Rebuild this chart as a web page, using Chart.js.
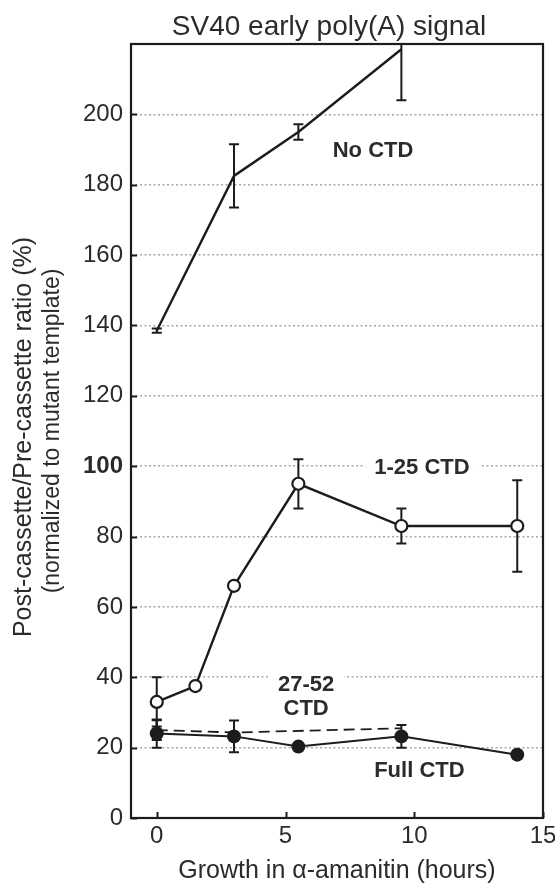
<!DOCTYPE html>
<html>
<head>
<meta charset="utf-8">
<script src="https://cdn.jsdelivr.net/npm/chart.js@4.4.0/dist/chart.umd.min.js"></script>
<style>
  html, body { margin: 0; padding: 0; background: #fff; }
  canvas { display: block; }
</style>
</head>
<body>
<canvas id="chart" width="555" height="884"></canvas>
<script>
/* values: hours in alpha-amanitin vs ratio (%) */
const noCtdHours = [0, 3, 5.5, 9.5];
const noCtdRatio = [138.5, 182.5, 195, 218.5];
const noCtdErr   = [0.6, 9, 2.2, 14.5];

const ctd125Hours = [0, 1.5, 3, 5.5, 9.5, 14];
const ctd125Ratio = [33, 37.5, 66, 95, 83, 83];
const ctd125Err   = [7, 0, 0, 7, 5, 13];

const ctd2752Hours = [0, 3, 9.5];
const ctd2752Ratio = [25, 24.3, 25.5];
const ctd2752Err   = [2.8, 0, 0];

const fullHours = [0, 3, 5.5, 9.5, 14];
const fullRatio = [24, 23.2, 20.3, 23.2, 18];
const fullErr   = [4, 4.5, 0, 3.2, 0];

const xTicks = [0, 5, 10, 15];
const yTicks = [0, 20, 40, 60, 80, 100, 120, 140, 160, 180, 200];

const chartTitle = 'SV40 early poly(A) signal';
const xTitle = 'Growth in \u03b1-amanitin (hours)';
const yTitle = ['Post-cassette/Pre-cassette ratio (%)', '(normalized to mutant template)'];

// series names, placed in data units
const seriesNotes = [
  { lines: ['No CTD'], x: 8.4, y: 189.8 },
  { lines: ['1-25 CTD'], x: 10.3, y: 99.7 },
  { lines: ['27-52', 'CTD'], x: 5.8, y: 34.6 },
  { lines: ['Full CTD'], x: 10.2, y: 13.7 }
];

const INK = '#1c1c1c';
const TEXT = '#2b2b2b';
const FONT = "'Liberation Sans', Arial, Helvetica, sans-serif";

const pts = (xs, ys) => xs.map((x, i) => ({ x, y: ys[i] }));

/* error bars, drawn under the markers */
const errorBars = {
  id: 'errorBars',
  beforeDatasetsDraw(chart) {
    const { ctx, chartArea: a, scales: { x, y } } = chart;
    ctx.save();
    ctx.beginPath();
    ctx.rect(a.left, a.top - 1, a.right - a.left, a.bottom - a.top + 1);
    ctx.clip();
    ctx.strokeStyle = INK;
    ctx.lineWidth = 2;
    for (const ds of chart.data.datasets) {
      (ds.errors || []).forEach((e, i) => {
        if (!e) return;
        const p = ds.data[i];
        const px = x.getPixelForValue(p.x);
        const hi = y.getPixelForValue(p.y + e);
        const lo = y.getPixelForValue(p.y - e);
        ctx.beginPath();
        ctx.moveTo(px, hi); ctx.lineTo(px, lo);
        ctx.moveTo(px - 5, hi); ctx.lineTo(px + 5, hi);
        ctx.moveTo(px - 5, lo); ctx.lineTo(px + 5, lo);
        ctx.stroke();
      });
    }
    ctx.restore();

    // series names with a white box that breaks the grid lines
    ctx.save();
    ctx.font = 'bold 22px ' + FONT;
    ctx.textAlign = 'center';
    ctx.textBaseline = 'middle';
    for (const n of seriesNotes) {
      const cx = x.getPixelForValue(n.x);
      const cy = y.getPixelForValue(n.y);
      const lh = 24;
      const top = cy - (n.lines.length - 1) * lh / 2;
      n.lines.forEach((t, k) => {
        const w = ctx.measureText(t).width;
        ctx.fillStyle = '#fff';
        ctx.fillRect(cx - w / 2 - 10, top + k * lh - 11, w + 20, 22);
        ctx.fillStyle = TEXT;
        ctx.fillText(t, cx, top + k * lh + 1);
      });
    }
    ctx.restore();
  }
};

/* frame, inward ticks and titles */
const frame = {
  id: 'frame',
  afterDraw(chart) {
    const { ctx, chartArea: a, scales: { x, y } } = chart;
    ctx.save();
    ctx.strokeStyle = INK;
    ctx.lineWidth = 2.2;
    ctx.strokeRect(a.left, a.top, a.right - a.left, a.bottom - a.top);
    ctx.lineWidth = 2;
    ctx.beginPath();
    for (const v of yTicks) {
      const py = Math.round(y.getPixelForValue(v)) + 0.5;
      ctx.moveTo(a.left, py); ctx.lineTo(a.left + 6, py);
    }
    for (const v of xTicks) {
      const px = Math.round(x.getPixelForValue(v)) + 0.5;
      ctx.moveTo(px, a.bottom); ctx.lineTo(px, a.bottom - 6);
    }
    ctx.stroke();

    ctx.fillStyle = TEXT;
    ctx.textAlign = 'center';
    ctx.textBaseline = 'alphabetic';
    ctx.font = '28px ' + FONT;
    ctx.fillText(chartTitle, 329, 35);
    ctx.font = '25px ' + FONT;
    ctx.fillText(xTitle, (a.left + a.right) / 2, 878);

    ctx.translate(0, 437);
    ctx.rotate(-Math.PI / 2);
    ctx.font = '25px ' + FONT;
    ctx.fillText(yTitle[0], 0, 31);
    ctx.font = '23px ' + FONT;
    ctx.translate(6, 0);
    ctx.fillText(yTitle[1], 0, 59);
    ctx.restore();
  }
};

new Chart(document.getElementById('chart'), {
  type: 'line',
  data: {
    datasets: [
      {
        label: 'No CTD',
        data: pts(noCtdHours, noCtdRatio),
        errors: noCtdErr,
        borderColor: INK, borderWidth: 2.4,
        pointRadius: 0
      },
      {
        label: '1-25 CTD',
        data: pts(ctd125Hours, ctd125Ratio),
        errors: ctd125Err,
        borderColor: INK, borderWidth: 2.4,
        pointRadius: 6, pointBorderWidth: 2.2,
        pointBackgroundColor: '#fff', pointBorderColor: INK
      },
      {
        label: '27-52 CTD',
        data: pts(ctd2752Hours, ctd2752Ratio),
        errors: ctd2752Err,
        borderColor: INK, borderWidth: 1.8,
        borderDash: [11, 6],
        pointRadius: 0
      },
      {
        label: 'Full CTD',
        data: pts(fullHours, fullRatio),
        errors: fullErr,
        borderColor: INK, borderWidth: 2,
        pointRadius: 7, pointBorderWidth: 0,
        pointBackgroundColor: INK, pointBorderColor: INK
      }
    ]
  },
  options: {
    responsive: false,
    animation: false,
    layout: { padding: { top: 44, right: 12, left: 0, bottom: 0 } },
    elements: { line: { tension: 0 } },
    plugins: {
      legend: { display: false },
      title: { display: false },
      tooltip: { enabled: false }
    },
    scales: {
      x: {
        type: 'linear',
        min: -1, max: 15,
        afterFit: s => { s.height = 66; s.paddingLeft = 0; s.paddingRight = 0; },
        afterBuildTicks: s => { s.ticks = xTicks.map(v => ({ value: v })); },
        grid: { display: false, drawTicks: false },
        border: { display: false },
        ticks: {
          color: TEXT,
          padding: 4,
          font: { family: FONT, size: 24 }
        }
      },
      y: {
        min: 0, max: 220,
        afterFit: s => { s.width = 131; s.paddingTop = 0; s.paddingBottom = 0; },
        ticks: {
          stepSize: 20,
          color: TEXT,
          padding: 8,
          font: c => ({ family: FONT, size: 24, weight: c.tick && c.tick.value === 100 ? 'bold' : 'normal' }),
          callback: v => (v > 200 ? '' : v)
        },
        grid: { color: '#a8a8a8', lineWidth: 1.6, drawTicks: false },
        border: { display: false, dash: [2, 2.5] }
      }
    }
  },
  plugins: [errorBars, frame]
});
</script>
</body>
</html>
